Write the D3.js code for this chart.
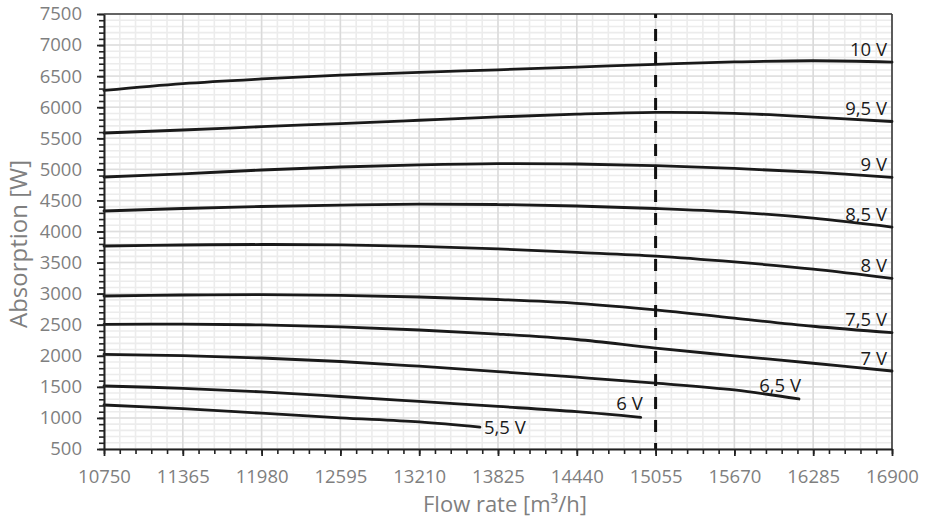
<!DOCTYPE html>
<html>
<head>
<meta charset="utf-8">
<script src="https://cdn.jsdelivr.net/npm/d3@7"></script>
<style>
  html, body { margin: 0; padding: 0; background: #fff; }
  svg { display: block; font-family: "Open Sans", "Noto Sans", sans-serif; }
</style>
</head>
<body>
<svg id="chart" width="930" height="522"></svg>
<script>
// Flow rate ticks [m³/h] and absorption ticks [W]
const xTicks = [10750, 11365, 11980, 12595, 13210, 13825, 14440, 15055, 15670, 16285, 16900];
const yTicks = [500, 1000, 1500, 2000, 2500, 3000, 3500, 4000, 4500, 5000, 5500, 6000, 6500, 7000, 7500];

// Reference flow rate marked by the dashed line
const refFlow = 15055;

// Flow rates at which each curve is sampled
const flowFull = [10750, 11365, 11980, 12595, 13210, 13825, 14440, 15055, 15670, 16285, 16900];
const flow65 = [10750, 11365, 11980, 12595, 13210, 13825, 14440, 15055, 15670, 16174];
const flow60 = [10750, 11365, 11980, 12595, 13210, 13825, 14440, 14939];
const flow55 = [10750, 11365, 11980, 12595, 13210, 13684];

// Absorbed power [W] per control voltage
const p100 = [6270, 6380, 6455, 6515, 6562, 6602, 6645, 6690, 6728, 6748, 6725];
const p95 = [5585, 5633, 5687, 5737, 5790, 5843, 5888, 5916, 5902, 5842, 5770];
const p90 = [4877, 4927, 4990, 5038, 5072, 5092, 5086, 5059, 5015, 4955, 4872];
const p85 = [4330, 4370, 4402, 4426, 4440, 4434, 4410, 4370, 4312, 4215, 4072];
const p80 = [3767, 3783, 3791, 3784, 3760, 3720, 3664, 3604, 3510, 3395, 3247];
const p75 = [2962, 2978, 2985, 2972, 2946, 2906, 2845, 2740, 2605, 2475, 2372];
const p70 = [2505, 2511, 2496, 2465, 2415, 2350, 2262, 2122, 2000, 1880, 1755];
const p65 = [2024, 2001, 1964, 1908, 1832, 1746, 1655, 1560, 1450, 1305];
const p60 = [1514, 1477, 1420, 1345, 1265, 1185, 1100, 1008];
const p55 = [1208, 1149, 1076, 1002, 936, 852];

const curveLabels = ["10 V", "9,5 V", "9 V", "8,5 V", "8 V", "7,5 V", "7 V", "6,5 V", "6 V", "5,5 V"];

const series = [
  { label: curveLabels[0], flow: flowFull, power: p100, pos: "right" },
  { label: curveLabels[1], flow: flowFull, power: p95, pos: "right" },
  { label: curveLabels[2], flow: flowFull, power: p90, pos: "right" },
  { label: curveLabels[3], flow: flowFull, power: p85, pos: "right" },
  { label: curveLabels[4], flow: flowFull, power: p80, pos: "right" },
  { label: curveLabels[5], flow: flowFull, power: p75, pos: "right" },
  { label: curveLabels[6], flow: flowFull, power: p70, pos: "right" },
  { label: curveLabels[7], flow: flow65, power: p65, pos: "above" },
  { label: curveLabels[8], flow: flow60, power: p60, pos: "above" },
  { label: curveLabels[9], flow: flow55, power: p55, pos: "after" }
];

const svg = d3.select("#chart");
const margin = { left: 104, right: 38, top: 14, bottom: 73 };
const W = 930, H = 522;
const x = d3.scaleLinear().domain([10750, 16900]).range([margin.left, W - margin.right]);
const y = d3.scaleLinear().domain([500, 7500]).range([H - margin.bottom, margin.top]);

const x0 = x.range()[0], x1 = x.range()[1];
const y0 = y.range()[0], y1 = y.range()[1];

// Grid: minor lines first, major lines on top
const grid = svg.append("g");
const xMinor = d3.range(10750, 16900 + 1, 123);
const yMinor = d3.range(500, 7500 + 1, 100);
grid.selectAll(".hm").data(yMinor).join("line")
  .attr("x1", x0).attr("x2", x1)
  .attr("y1", d => y(d)).attr("y2", d => y(d))
  .attr("stroke", "#ececec").attr("stroke-width", 1.6);
grid.selectAll(".vm").data(xMinor).join("line")
  .attr("x1", d => x(d)).attr("x2", d => x(d))
  .attr("y1", y0).attr("y2", y1)
  .attr("stroke", "#ececec").attr("stroke-width", 1.6);
grid.selectAll(".hM").data(yTicks).join("line")
  .attr("x1", x0).attr("x2", x1)
  .attr("y1", d => y(d)).attr("y2", d => y(d))
  .attr("stroke", "#dedede").attr("stroke-width", 1.4);
grid.selectAll(".vM").data(xTicks).join("line")
  .attr("x1", d => x(d)).attr("x2", d => x(d))
  .attr("y1", y0).attr("y2", y1)
  .attr("stroke", "#dadada").attr("stroke-width", 1.4);

// Frame on the top and right sides
svg.append("line").attr("x1", x0).attr("x2", x1).attr("y1", y1).attr("y2", y1)
  .attr("stroke", "#3a3a3a").attr("stroke-width", 1.4);
svg.append("line").attr("x1", x1).attr("x2", x1).attr("y1", y1).attr("y2", y0)
  .attr("stroke", "#3a3a3a").attr("stroke-width", 1.6);

// Curves
const line = d3.line().x(d => x(d[0])).y(d => y(d[1])).curve(d3.curveCatmullRom.alpha(0.5));
const curves = svg.append("g");
series.forEach(s => {
  const pts = s.flow.map((f, i) => [f, s.power[i]]);
  curves.append("path")
    .attr("d", line(pts))
    .attr("fill", "none")
    .attr("stroke", "#1a1a1a")
    .attr("stroke-width", 2.8)
    .attr("stroke-linecap", "round");
  const last = pts[pts.length - 1];
  const ex = x(last[0]), ey = y(last[1]);
  const t = curves.append("text")
    .text(s.label)
    .attr("font-size", 18.5)
    .attr("fill", "#1a1a1a");
  if (s.pos === "right") {
    t.attr("x", ex - 5).attr("y", ey - 6.5).attr("text-anchor", "end");
  } else if (s.pos === "above") {
    t.attr("x", ex + 2).attr("y", ey - 7).attr("text-anchor", "end");
  } else {
    t.attr("x", ex + 4).attr("y", ey + 6.5).attr("text-anchor", "start");
  }
});

// Dashed reference line
svg.append("line")
  .attr("x1", x(refFlow)).attr("x2", x(refFlow))
  .attr("y1", y1).attr("y2", y0)
  .attr("stroke", "#111").attr("stroke-width", 3)
  .attr("stroke-dasharray", "12 11").attr("stroke-dashoffset", 8);

// Axes
const axisFont = g => g.selectAll("text")
  .attr("font-family", "'Open Sans', 'Noto Sans', sans-serif")
  .attr("font-size", 18.5).attr("fill", "#7f7f7f");

svg.append("g").attr("transform", `translate(0,${y0})`)
  .call(d3.axisBottom(x).tickValues(xMinor).tickSize(5).tickFormat(""))
  .call(g => g.select(".domain").remove())
  .call(g => g.selectAll("line").attr("stroke", "#222").attr("stroke-width", 1.6));
svg.append("g").attr("transform", `translate(${x0},0)`)
  .call(d3.axisLeft(y).tickValues(yMinor).tickSize(5).tickFormat(""))
  .call(g => g.select(".domain").remove())
  .call(g => g.selectAll("line").attr("stroke", "#222").attr("stroke-width", 1.6));

svg.append("g").attr("transform", `translate(0,${y0})`)
  .call(d3.axisBottom(x).tickValues(xTicks).tickSize(7).tickSizeOuter(0).tickPadding(14).tickFormat(d3.format("d")))
  .call(g => g.select(".domain").attr("stroke", "#222").attr("stroke-width", 2))
  .call(g => g.selectAll(".tick line").attr("stroke", "#222").attr("stroke-width", 1.8))
  .call(axisFont);
svg.append("g").attr("transform", `translate(${x0},0)`)
  .call(d3.axisLeft(y).tickValues(yTicks).tickSize(7).tickSizeOuter(0).tickPadding(15).tickFormat(d3.format("d")))
  .call(g => g.select(".domain").attr("stroke", "#222").attr("stroke-width", 2))
  .call(g => g.selectAll(".tick line").attr("stroke", "#222").attr("stroke-width", 1.8))
  .call(axisFont);

// Axis titles
svg.append("text")
  .attr("x", 505).attr("y", 512)
  .attr("text-anchor", "middle")
  .attr("font-size", 22).attr("fill", "#7f7f7f")
  .text("Flow rate [m³/h]");
svg.append("text")
  .attr("transform", "translate(27,244) rotate(-90)")
  .attr("text-anchor", "middle")
  .attr("font-size", 24).attr("fill", "#7f7f7f")
  .text("Absorption [W]");
</script>
</body>
</html>
